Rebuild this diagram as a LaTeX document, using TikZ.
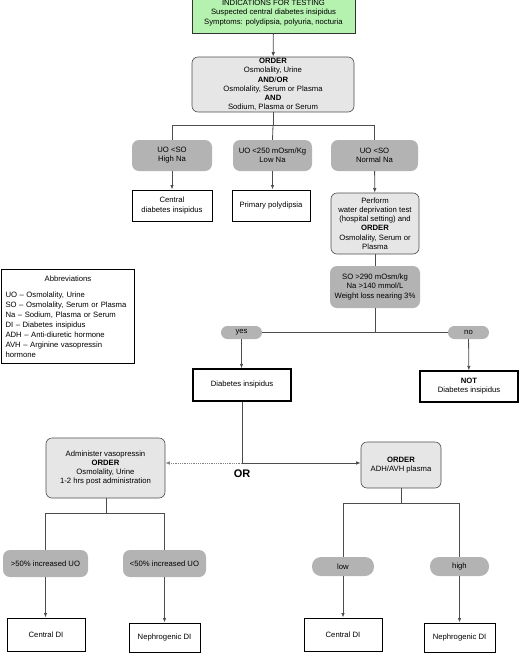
\documentclass[tikz,border=0pt]{standalone}
\usepackage{fontspec}
\setmainfont{Liberation Sans}
\usetikzlibrary{arrows.meta,positioning}
\definecolor{indicgreen}{HTML}{B5F2B0}
\definecolor{lightbox}{HTML}{E6E6E6}
\definecolor{darkbox}{HTML}{B3B3B3}
\definecolor{linegray}{HTML}{4D4D4D}

\begin{document}
\begin{tikzpicture}[
  x=1pt, y=-1pt,
  every node/.style={font=\fontsize{7.7}{9.2}\selectfont, align=center, inner sep=0pt},
  indic/.style={draw=black!80, fill=indicgreen, line width=0.6pt},
  orderbox/.style={draw=linegray, fill=lightbox, rounded corners=6pt, line width=0.6pt},
  cond/.style={fill=darkbox, rounded corners=7pt},
  pill/.style={fill=darkbox, rounded corners=6.4pt},
  result/.style={draw=black, fill=white, line width=0.9pt},
  resultbold/.style={draw=black, fill=white, line width=1.3pt},
  abbrbox/.style={draw=black, line width=1pt, align=left, text width=125pt, inner xsep=4pt,
    font=\fontsize{7.7}{10}\selectfont},
  conn/.style={draw=linegray, line width=0.8pt},
  arr/.style={conn, -{Latex[length=4.5pt,width=3.5pt]}},
  dotarr/.style={arr, draw=gray, densely dotted}
]
\useasboundingbox (0,0) rectangle (530,662);

% top of the chart
\node[indic, minimum width=163, minimum height=40] (indic) at (273.5,13)
  {INDICATIONS FOR TESTING\\Suspected central diabetes insipidus\\Symptoms: polydipsia, polyuria, nocturia};
\node[orderbox, minimum width=162, minimum height=55] (ord1) at (273,84.5)
  {\textbf{ORDER}\\Osmolality, Urine\\\textbf{AND}/\textbf{OR}\\Osmolality, Serum or Plasma\\\textbf{AND}\\Sodium, Plasma or Serum};

% three conditions
\node[cond, minimum width=80, minimum height=31] (c1) at (172,155.5) {UO {<}SO\\High Na};
\node[cond, minimum width=79, minimum height=31] (c2) at (272.5,155.5) {UO {<}250 mOsm/Kg\\Low Na};
\node[cond, minimum width=87, minimum height=31] (c3) at (374.5,155.5) {UO {<}SO\\Normal Na};

\node[result, minimum width=80, minimum height=31] (r1) at (172,205.5) {Central\\diabetes insipidus};
\node[result, minimum width=78, minimum height=31] (r2) at (271,205.5) {Primary polydipsia};
\node[orderbox, minimum width=88, minimum height=61] (wdt) at (375,223.5)
  {Perform\\water deprivation test\\(hospital setting) and\\\textbf{ORDER}\\Osmolality, Serum or\\Plasma};
\node[cond, minimum width=90, minimum height=42] (so) at (375,287)
  {SO {>}290 mOsm/kg\\Na {>}140 mmol/L\\Weight loss nearing 3\%};

% abbreviations
\node[abbrbox, minimum height=94, anchor=north west] (abbr) at (1,269)
  {\makebox[125pt]{Abbreviations}\\[6pt]
   UO -- Osmolality, Urine\\
   SO -- Osmolality, Serum or Plasma\\
   Na -- Sodium, Plasma or Serum\\
   DI -- Diabetes insipidus\\
   ADH -- Anti-diuretic hormone\\
   AVH -- Arginine vasopressin\\
   hormone};

% yes / no
\node[pill, minimum width=41, minimum height=13] (yes) at (241.5,332.5) {yes};
\node[pill, minimum width=41, minimum height=13] (no) at (468.5,332.5) {no};
\node[resultbold, minimum width=98, minimum height=32] (di) at (242,385) {Diabetes insipidus};
\node[resultbold, minimum width=98, minimum height=31] (notdi) at (469,386.5) {\textbf{NOT}\\Diabetes insipidus};

% two ways on
\node[orderbox, minimum width=119, minimum height=60] (adm) at (105.5,468)
  {Administer vasopressin\\\textbf{ORDER}\\Osmolality, Urine\\1-2 hrs post administration};
\node[orderbox, minimum width=80, minimum height=46] (adh) at (401,465)
  {\textbf{ORDER}\\ADH/AVH plasma};
\node[font=\fontsize{11}{13}\selectfont\bfseries] (or) at (242,474) {OR};

\node[cond, minimum width=85, minimum height=27] (p50) at (45.5,563.5) {{>}50\% increased UO};
\node[cond, minimum width=83, minimum height=27] (m50) at (164.5,563.5) {{<}50\% increased UO};
\node[pill, minimum width=62, minimum height=19, rounded corners=9pt] (low) at (343,566.5) {low};
\node[pill, minimum width=59, minimum height=19, rounded corners=9pt] (high) at (459.5,566.5) {high};

\node[result, minimum width=78, minimum height=33] (cdi1) at (46,634.5) {Central DI};
\node[result, minimum width=71, minimum height=29] (ndi1) at (164.5,637.5) {Nephrogenic DI};
\node[result, minimum width=78, minimum height=33] (cdi2) at (343,634.5) {Central DI};
\node[result, minimum width=71, minimum height=29] (ndi2) at (459.5,637.5) {Nephrogenic DI};

% junctions
\coordinate (j1) at (273,125);
\coordinate (j2) at (375,332.5);
\coordinate (j3) at (242,463);
\coordinate (j4) at (106,513);
\coordinate (j5) at (401,503);

% connectors
\draw[arr] (indic) -- (ord1);
\draw[conn] (ord1) -- (j1);
\draw[conn] (j1) -| (c1.north);
\draw[conn] (j1) -- (c2.north);
\draw[conn] (j1) -| (c3.north);
\draw[arr] (c1) -- (r1);
\draw[arr] (c2.south) -- (c2.south |- r2.north);
\draw[arr] (c3) -- (wdt);
\draw[conn] (wdt) -- (so);
\draw[conn] (so) -- (j2);
\draw[conn] (yes) -- (no);
\draw[arr] (yes.south) -- (yes.south |- di.north);
\draw[arr] (no) -- (notdi);
\draw[conn] (di) -- (j3);
\draw[dotarr] (j3) -- (j3 -| adm.east);
\draw[arr] (j3) -- (j3 -| adh.west);
\draw[conn] (adm.south -| j4) -- (j4);
\draw[conn] (j4) -| (p50.north);
\draw[conn] (j4) -| (m50.north);
\draw[arr] (p50.south) -- (p50.south |- cdi1.north);
\draw[arr] (m50) -- (ndi1);
\draw[conn] (adh) -- (j5);
\draw[conn] (j5) -| (low.north);
\draw[conn] (j5) -| (high.north);
\draw[arr] (low) -- (cdi2);
\draw[arr] (high) -- (ndi2);
\end{tikzpicture}
\end{document}
